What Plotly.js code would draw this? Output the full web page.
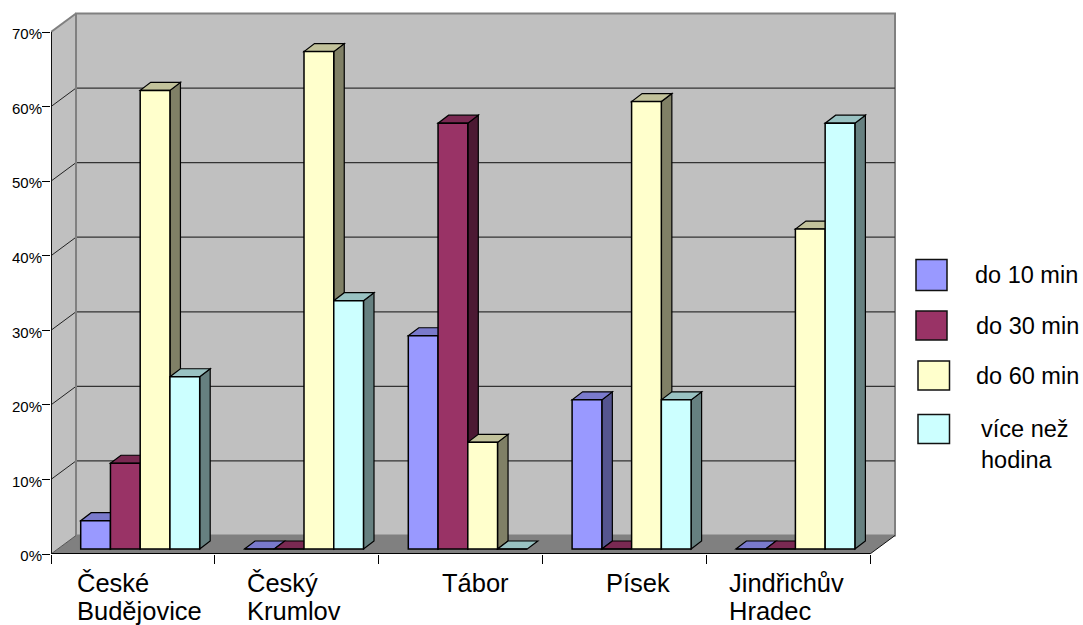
<!DOCTYPE html>
<html lang="cs">
<head>
<meta charset="utf-8">
<title>Doba dojíždění podle okresu</title>
<script src="https://cdn.plot.ly/plotly-3.0.1.min.js"></script>
<style>html,body{margin:0;padding:0;background:#fff}#chart{width:1083px;height:625px}</style>
</head>
<body>
<div id="chart"></div>
<script>
// Share of answers per town, in percent
const categories = ['České<br>Budějovice', 'Český<br>Krumlov', 'Tábor', 'Písek', 'Jindřichův<br>Hradec'];
const seriesNames = ['do 10 min', 'do 30 min', 'do 60 min', 'více než<br>hodina'];
const do10 = [3.8, 0, 28.6, 20, 0];
const do30 = [11.5, 0, 57.1, 0, 0];
const do60 = [61.5, 66.7, 14.3, 60, 42.9];
const viceNezHodina = [23.1, 33.3, 0, 20, 57.1];
const yTicks = [0, 10, 20, 30, 40, 50, 60, 70];

const seriesValues = [do10, do30, do60, viceNezHodina];
const frontColors = ['#9999FF', '#993366', '#FFFFCC', '#CCFFFF'];
const topColors = ['#7A7ACC', '#7A2952', '#C2C29B', '#99C2C2'];
const sideColors = ['#55558F', '#4C1933', '#808066', '#668080'];

// Plot scale: pixels per category and per percentage point
const PX_X = 163.8, PX_Y = 7.457;
const px = v => v / PX_X, py = v => v / PX_Y;

// Oblique projection of the box and of the bars, in axis units
const WALL_DX = px(25), WALL_DY = py(18.5);
const BAR_DX = px(10.5), BAR_DY = py(8);
const BAR_BASE = py(5);
const GROUP_START = px(29.7);
const BAR_W = px(29.75);
const Y_MAX = 70, N = categories.length;

const poly = (pts) => 'M' + pts.map(p => p[0] + ',' + p[1]).join(' L') + ' Z';
const shapes = [];
const face = (pts, fill, color, width) => shapes.push({
  type: 'path', path: poly(pts), xref: 'x', yref: 'y', layer: 'below',
  fillcolor: fill, line: {color: color, width: width}
});
const seg = (x0, y0, x1, y1, color, width) => shapes.push({
  type: 'line', x0, y0, x1, y1, xref: 'x', yref: 'y', layer: 'below',
  line: {color: color, width: width}
});

// Box: back wall, left wall and floor
face([[WALL_DX, WALL_DY], [N + WALL_DX, WALL_DY], [N + WALL_DX, Y_MAX + WALL_DY], [WALL_DX, Y_MAX + WALL_DY]], '#C0C0C0', '#808080', 2);
face([[0, 0], [WALL_DX, WALL_DY], [WALL_DX, Y_MAX + WALL_DY], [0, Y_MAX]], '#C0C0C0', 'rgba(0,0,0,0)', 0);
yTicks.filter(t => t > 0 && t < Y_MAX).forEach(t => {
  seg(WALL_DX, t + WALL_DY, N + WALL_DX, t + WALL_DY, '#333333', 1.2);
  seg(0, t, WALL_DX, t + WALL_DY, '#222222', 1);
});
seg(0, Y_MAX, WALL_DX, Y_MAX + WALL_DY, '#808080', 2);
seg(WALL_DX, WALL_DY, WALL_DX, Y_MAX + WALL_DY, '#808080', 2);
face([[0, 0], [N, 0], [N + WALL_DX, WALL_DY], [WALL_DX, WALL_DY]], '#808080', 'rgba(0,0,0,0)', 0);
seg(N, 0, N + WALL_DX, WALL_DY, '#111111', 1);
seg(0, 0, WALL_DX, WALL_DY, '#555555', 1);
seg(0, 0, N, 0, '#000000', 2);
seg(0, 0, 0, Y_MAX, '#111111', 2);

// Depth faces of the bars, left to right; front faces are the bar traces above them
categories.forEach((c, i) => {
  seriesValues.forEach((vals, s) => {
    const x0 = i + GROUP_START + s * BAR_W, x1 = x0 + BAR_W;
    const top = BAR_BASE + vals[i];
    if (vals[i] > 0) {
      face([[x1, BAR_BASE], [x1 + BAR_DX, BAR_BASE + BAR_DY], [x1 + BAR_DX, top + BAR_DY], [x1, top]], sideColors[s], '#000000', 1.2);
    }
    face([[x0, top], [x1, top], [x1 + BAR_DX, top + BAR_DY], [x0 + BAR_DX, top + BAR_DY]], topColors[s], '#000000', 1.2);
  });
});

const traces = seriesValues.map((vals, s) => ({
  type: 'bar',
  name: seriesNames[s].replace('<br>', ' '),
  x: categories.map((c, i) => i + GROUP_START + (s + 0.5) * BAR_W),
  y: vals,
  base: BAR_BASE,
  width: BAR_W,
  marker: {color: frontColors[s], line: {color: '#000000', width: 1.5}},
  hovertemplate: '%{y}%<extra>' + seriesNames[s].replace('<br>', ' ') + '</extra>'
}));

const PLOT = {l: 51, t: 12, w: 846, h: 542};
const paperX = p => (p - PLOT.l) / PLOT.w;
const paperY = p => (PLOT.t + PLOT.h - p) / PLOT.h;

const TEXT = 'Liberation Sans, Arial, sans-serif';
const annotations = [];

// Town names sit left-aligned under their categories, one annotation per line
// so the tighter line pitch can be kept
const townLeft = [76, 246, 441, 605, 728];
const LINE_CENTRE = [582.5, 611];
categories.forEach((c, i) => c.split('<br>').forEach((line, k) => annotations.push({
  text: line, xref: 'paper', yref: 'paper', x: paperX(townLeft[i]), y: paperY(LINE_CENTRE[k]),
  xanchor: 'left', yanchor: 'middle', align: 'left', showarrow: false, borderpad: 0,
  font: {family: TEXT, size: 25.5, color: '#000000'}
})));

// Key at the right of the box
const keyBoxes = [[916, 259.5, 947, 290.5], [916, 311, 947, 340], [918, 361, 949.5, 390], [918, 414.5, 949.5, 443.5]];
const keyText = [[974, 274.5], [975, 325.5], [975, 375.5], [980, 444.5]];
seriesNames.forEach((n, s) => {
  const b = keyBoxes[s];
  shapes.push({
    type: 'rect', xref: 'paper', yref: 'paper',
    x0: paperX(b[0]), x1: paperX(b[2]), y0: paperY(b[3]), y1: paperY(b[1]),
    fillcolor: frontColors[s], line: {color: '#111111', width: 1.5}, layer: 'above'
  });
  annotations.push({
    text: n, xref: 'paper', yref: 'paper', x: paperX(keyText[s][0]), y: paperY(keyText[s][1]),
    xanchor: 'left', yanchor: 'middle', align: 'left', showarrow: false, borderpad: 0,
    font: {family: TEXT, size: 23.5, color: '#000000'}
  });
});

const layout = {
  width: 1083, height: 625,
  margin: {l: PLOT.l, r: 1083 - PLOT.l - PLOT.w, t: PLOT.t, b: 625 - PLOT.t - PLOT.h, pad: 0},
  paper_bgcolor: '#FFFFFF', plot_bgcolor: '#FFFFFF',
  barmode: 'overlay', showlegend: false, hovermode: 'closest',
  xaxis: {
    range: [0, PLOT.w / PX_X], tickmode: 'array', tickvals: categories.map((c, i) => i).concat([N]),
    ticktext: categories.map(() => '').concat(['']), ticks: 'outside', ticklen: 9, tickwidth: 1, tickcolor: '#000000',
    showgrid: false, zeroline: false, showline: false
  },
  yaxis: {
    range: [0, PLOT.h / PX_Y], tickmode: 'array', tickvals: yTicks, ticktext: yTicks.map(t => t + '%'),
    ticks: 'outside', ticklen: 8, tickwidth: 1, tickcolor: '#000000', ticklabelstandoff: -3, ticklabelshift: 2,
    tickfont: {family: TEXT, size: 15, color: '#000000'},
    showgrid: false, zeroline: false, showline: false
  },
  shapes, annotations
};

Plotly.newPlot('chart', traces, layout, {displayModeBar: false, responsive: false});
</script>
</body>
</html>
